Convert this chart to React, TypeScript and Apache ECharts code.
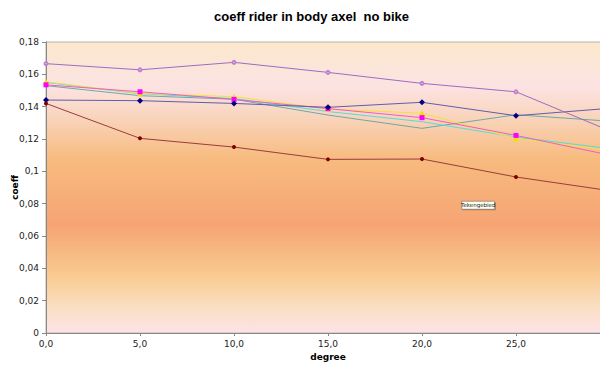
import React, { useEffect, useRef } from "react";
import * as echarts from "echarts";

const degrees = [0, 5, 10, 15, 20, 25, 30];
const navySeries = [0.1441, 0.1437, 0.142, 0.1396, 0.1427, 0.1344, 0.139];
const magentaSeries = [0.1535, 0.1492, 0.1445, 0.1388, 0.1332, 0.1222, 0.11];
const yellowSeries = [0.1554, 0.1482, 0.1462, 0.1385, 0.1359, 0.1204, 0.113];
const cyanSeries = [0.155, 0.148, 0.145, 0.137, 0.1307, 0.1212, 0.114];
const tealSeries = [0.153, 0.1468, 0.1446, 0.1348, 0.1266, 0.135, 0.131];
const purpleSeries = [0.1666, 0.1628, 0.1674, 0.1612, 0.1544, 0.1492, 0.125];
const redSeries = [0.142, 0.1204, 0.115, 0.1074, 0.1076, 0.0965, 0.088];

const pairs = (vals: number[]) => degrees.map((d, i) => [d, vals[i]]);

export default function App() {
  const ref = useRef<HTMLDivElement>(null);
  useEffect(() => {
    if (!ref.current) return;
    const chart = echarts.init(ref.current, undefined, { renderer: "svg" });
    const mk = (
      name: string,
      vals: number[],
      lineColor: string,
      markColor: string,
      symbol: string,
      size: number
    ) => ({
      name,
      type: "line",
      data: pairs(vals),
      symbol,
      symbolSize: size,
      showSymbol: symbol !== "none",
      lineStyle: { color: lineColor, width: 1 },
      itemStyle: { color: markColor, borderWidth: 0 },
      z: 3,
    });
    chart.setOption({
      animation: false,
      backgroundColor: "#ffffff",
      textStyle: { fontFamily: "DejaVu Sans" },
      title: {
        text: "coeff rider in body axel  no bike",
        left: 209,
        top: 5,
        textStyle: {
          fontFamily: "Liberation Sans",
          fontWeight: "bold",
          fontSize: 13,
          color: "#000",
        },
      },
      grid: {
        left: 46,
        right: -10,
        top: 42,
        bottom: 32,
        containLabel: false,
        outerBoundsMode: "none",
        show: true,
        borderColor: "#b8b0a8",
        borderWidth: 1,
        backgroundColor: new echarts.graphic.LinearGradient(0, 0, 0, 1, [
          { offset: 0, color: "#fbe8cc" },
          { offset: 0.15, color: "#fce3e3" },
          { offset: 0.26, color: "#f9d4bc" },
          { offset: 0.4, color: "#f7bb7f" },
          { offset: 0.63, color: "#f6a473" },
          { offset: 0.8, color: "#f8ca90" },
          { offset: 0.91, color: "#fadfc2" },
          { offset: 1, color: "#fce3e8" },
        ]),
      },
      xAxis: {
        type: "value",
        min: 0,
        max: 30,
        interval: 5,
        name: "degree",
        nameLocation: "middle",
        nameGap: 19,
        nameMoveOverlap: false,
        nameTextStyle: { fontWeight: "bold", fontSize: 9, color: "#000" },
        axisLine: { lineStyle: { color: "#888" } },
        axisTick: { show: true, length: 3, lineStyle: { color: "#888" } },
        axisLabel: {
          fontSize: 9,
          color: "#222",
          margin: 6,
          showMaxLabel: false,
          formatter: (v: number) => (v >= 30 ? "" : v.toFixed(1).replace(".", ",")),
        },
        splitLine: { show: false },
      },
      yAxis: {
        type: "value",
        min: 0,
        max: 0.18,
        interval: 0.02,
        name: "coeff",
        nameLocation: "middle",
        nameGap: 27,
        nameMoveOverlap: false,
        nameTextStyle: { fontWeight: "bold", fontSize: 9, color: "#000" },
        axisLine: { show: true, lineStyle: { color: "#888" } },
        axisTick: { show: true, length: 4, lineStyle: { color: "#888" } },
        axisLabel: {
          fontSize: 9,
          color: "#222",
          margin: 7,
          formatter: (v: number) => String(+v.toFixed(2)).replace(".", ","),
        },
        splitLine: { show: false },
      },
      series: [
        mk("teal", tealSeries, "#6fa8a2", "#4f9a94", "none", 0),
        mk("cyan", cyanSeries, "#4fdede", "#33cccc", "none", 0),
        mk("yellow", yellowSeries, "#f4e03c", "#f0e000", "triangle", 6),
        mk("magenta", magentaSeries, "#ee5cc8", "#ff00ff", "rect", 5),
        mk("navy", navySeries, "#5e5eaa", "#000080", "diamond", 6),
        {
          ...mk("purple", purpleSeries, "#9d6cc0", "#9050a8", "emptyCircle", 3),
          itemStyle: { color: "#c080d0", borderColor: "#9050a8", borderWidth: 1 },
        },
        mk("red", redSeries, "#9a3c3c", "#800000", "circle", 4),
      ],
      graphic: [
        {
          type: "group",
          left: 461,
          top: 201,
          children: [
            {
              type: "rect",
              shape: { x: 1, y: 1, width: 33, height: 8 },
              style: { fill: "rgba(120,90,60,0.5)" },
            },
            {
              type: "rect",
              shape: { x: 0, y: 0, width: 33, height: 8 },
              style: { fill: "#fffff0", stroke: "#555", lineWidth: 0.5 },
            },
            {
              type: "text",
              x: 16.5,
              y: 4,
              style: {
                text: "Tekengebied",
                fontSize: 5.5,
                fontFamily: "DejaVu Sans",
                fill: "#222",
                align: "center",
                verticalAlign: "middle",
              },
            },
          ],
        },
      ],
    });
    return () => chart.dispose();
  }, []);
  return <div ref={ref} style={{ width: 600, height: 365, position: "absolute", left: 0, top: 0 }} />;
}
